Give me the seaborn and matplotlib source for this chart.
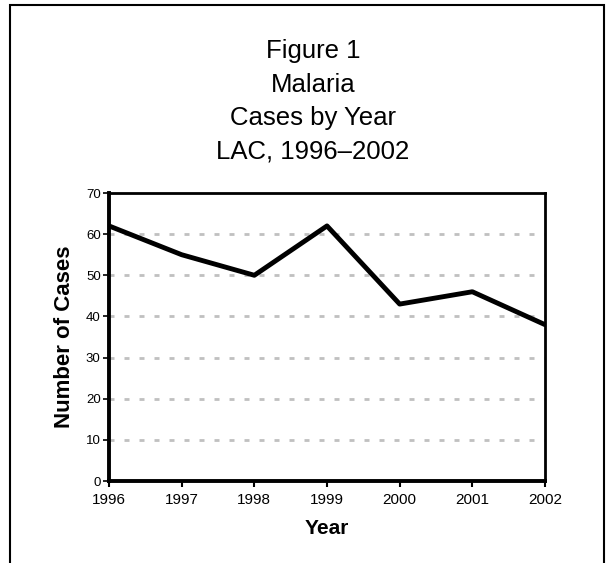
import pandas as pd
import matplotlib.pyplot as plt
import seaborn as sns
from matplotlib.patches import Rectangle

# Data
years = [1996, 1997, 1998, 1999, 2000, 2001, 2002]
cases = [62, 55, 50, 62, 43, 46, 38]
y_ticks = [0, 10, 20, 30, 40, 50, 60, 70]

df = pd.DataFrame({'Year': years, 'Cases': cases})

sns.set_style('white')
plt.rcParams['font.family'] = ['Liberation Sans', 'DejaVu Sans']
plt.rcParams['text.color'] = 'black'
plt.rcParams['axes.labelcolor'] = 'black'
plt.rcParams['xtick.color'] = 'black'
plt.rcParams['ytick.color'] = 'black'

W, H = 611, 563
fig = plt.figure(figsize=(W / 100, H / 100), dpi=100)
ax = fig.add_axes([109 / W, 1 - 481 / H, (545 - 109) / W, (481 - 193) / H])

sns.lineplot(data=df, x='Year', y='Cases', color='black', linewidth=3.5, ax=ax)

ax.set_xlim(1996, 2002)
ax.set_ylim(0, 70)
ax.set_xticks(years)
ax.set_yticks(y_ticks)
for v in y_ticks[1:-1]:
    ax.axhline(v, color='#c0c0c0', linewidth=2, linestyle=(0, (1.8, 3.6)), zorder=0)

ax.tick_params(axis='x', bottom=True, labelsize=11, length=4, width=1.5, direction='out', pad=5)
ax.tick_params(axis='y', left=True, labelsize=9.5, length=4, width=1.2, direction='out', pad=2)
ax.set_xlabel('Year', fontsize=15, fontweight='bold', labelpad=8)
ax.set_ylabel('Number of Cases', fontsize=16, fontweight='bold', labelpad=8)

ax.spines['left'].set_linewidth(2.8)
ax.spines['bottom'].set_linewidth(2.8)
ax.spines['top'].set_linewidth(2)
ax.spines['right'].set_linewidth(2)
for s in ax.spines.values():
    s.set_color('black')

title_lines = ['Figure 1', 'Malaria', 'Cases by Year', 'LAC, 1996\u20132002']
for i, t in enumerate(title_lines):
    fig.text(313 / W, 1 - (58 + 33.5 * i) / H, t, ha='center', va='baseline', fontsize=18.5)

# outer frame around the figure (bottom edge runs off the image)
fig.patches.append(Rectangle((10 / W, -0.05), (604 - 10) / W, 1.05 - 5 / H,
                             transform=fig.transFigure, fill=False,
                             edgecolor='black', linewidth=1.5))

plt.savefig('out.png', dpi=100)
print("Generated out.png")
